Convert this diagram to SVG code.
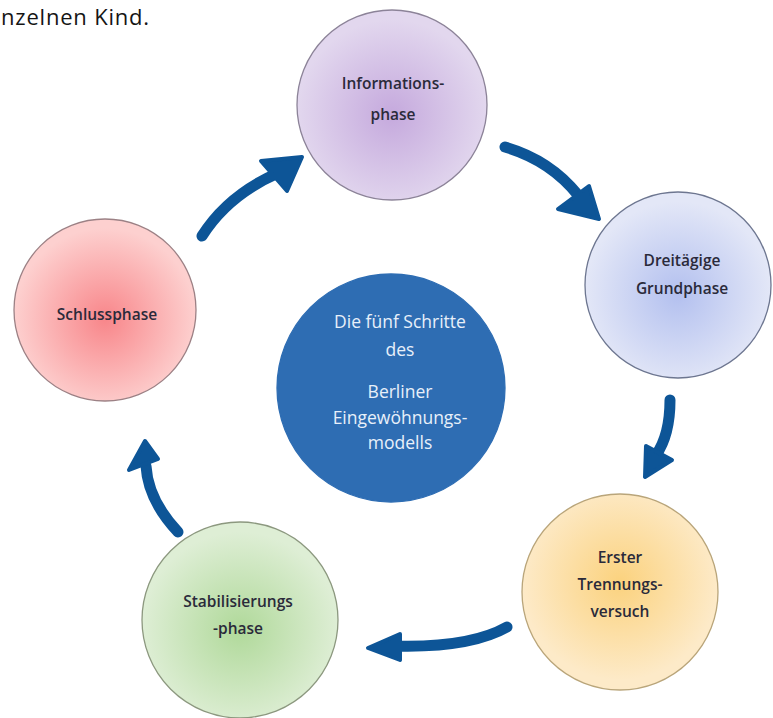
<svg xmlns="http://www.w3.org/2000/svg" width="773" height="718" viewBox="0 0 773 718">
<defs>
<radialGradient id="gInfo" cx="0.5" cy="0.55" r="0.5"><stop offset="0" stop-color="#c5a9dd"/><stop offset="1" stop-color="#e2d7ee"/></radialGradient>
<radialGradient id="gDrei" cx="0.5" cy="0.55" r="0.5"><stop offset="0" stop-color="#b3c0ef"/><stop offset="1" stop-color="#e3e7f7"/></radialGradient>
<radialGradient id="gSchl" cx="0.5" cy="0.55" r="0.5"><stop offset="0" stop-color="#f8868a"/><stop offset="1" stop-color="#fdd0cf"/></radialGradient>
<radialGradient id="gErst" cx="0.5" cy="0.45" r="0.5"><stop offset="0" stop-color="#fbd27e"/><stop offset="1" stop-color="#fdeac8"/></radialGradient>
<radialGradient id="gStab" cx="0.5" cy="0.55" r="0.5"><stop offset="0" stop-color="#b0d99a"/><stop offset="1" stop-color="#deeed5"/></radialGradient>
</defs>
<style>
.node circle{stroke-width:1.3}
.lbl{font-family:"Open Sans",Lato,"Liberation Sans",sans-serif;font-size:15.5px;font-weight:600;fill:#2a2a3a;text-anchor:middle}
.clbl{font-family:"Open Sans",Lato,"Liberation Sans",sans-serif;font-size:17.5px;fill:#e8f0fa;text-anchor:middle}
.shaft{fill:none;stroke:#0d5597;stroke-width:11;stroke-linecap:round}
.head{fill:#0d5597;stroke:#0d5597;stroke-width:4;stroke-linejoin:round}
.top{font-family:"Open Sans",Lato,"Liberation Sans",sans-serif;font-size:22px;letter-spacing:0.8px;fill:#151515}
</style>
<rect width="773" height="718" fill="#ffffff"/>
<text class="top" x="1" y="25">nzelnen Kind.</text>

<g id="connectors">
<path class="shaft" d="M202,236 Q228,195 278,173"/>
<polygon class="head" points="261,161 302,157 287,191"/>
<path class="shaft" d="M505,147 Q550,160 578,195"/>
<polygon class="head" points="558,209 589,186 599,219"/>
<path class="shaft" d="M670,400 Q670,435 656,455"/>
<polygon class="head" points="646,446 672,460 645,477"/>
<path class="shaft" d="M507,627 Q470,648 395,646"/>
<polygon class="head" points="400,634 368,648 400,660"/>
<path class="shaft" d="M178,532 Q148,500 146,466"/>
<polygon class="head" points="129,470 145,441 158,459"/>
</g>

<g id="center" class="node">
<circle cx="391" cy="388" r="114" fill="#2e6db3" stroke="#2e6db3"/>
<text class="clbl" x="400" y="328">Die fünf Schritte</text>
<text class="clbl" x="400" y="356">des</text>
<text class="clbl" x="400" y="398">Berliner</text>
<text class="clbl" x="400" y="424">Eingewöhnungs-</text>
<text class="clbl" x="400" y="449">modells</text>
</g>

<g id="informationsphase" class="node">
<circle cx="392" cy="105" r="95" fill="url(#gInfo)" stroke="#8c8398"/>
<text class="lbl" x="393" y="89">Informations-</text>
<text class="lbl" x="393" y="120">phase</text>
</g>

<g id="dreitaegige" class="node">
<circle cx="678" cy="285" r="93" fill="url(#gDrei)" stroke="#6d7690"/>
<text class="lbl" x="682" y="266">Dreitägige</text>
<text class="lbl" x="682" y="294">Grundphase</text>
</g>

<g id="erster" class="node">
<circle cx="620" cy="592" r="98" fill="url(#gErst)" stroke="#b9a57a"/>
<text class="lbl" x="620" y="563">Erster</text>
<text class="lbl" x="620" y="590">Trennungs-</text>
<text class="lbl" x="620" y="617">versuch</text>
</g>

<g id="stabilisierung" class="node">
<circle cx="240" cy="620" r="98" fill="url(#gStab)" stroke="#8c987f"/>
<text class="lbl" x="238" y="607">Stabilisierungs</text>
<text class="lbl" x="238" y="634">-phase</text>
</g>

<g id="schlussphase" class="node">
<circle cx="105" cy="310" r="91" fill="url(#gSchl)" stroke="#9c8185"/>
<text class="lbl" x="107" y="320">Schlussphase</text>
</g>
</svg>
